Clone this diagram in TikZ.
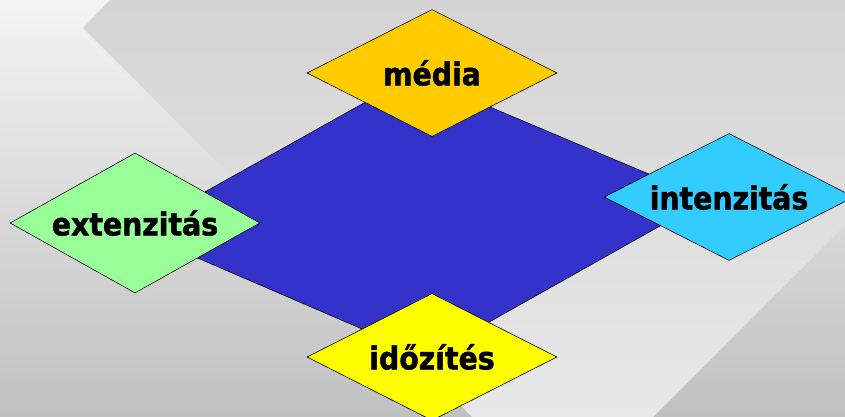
\documentclass[tikz,border=0pt]{standalone}
\usepackage{fontspec}
\setmainfont{DejaVu Sans}[FakeStretch=0.9, BoldFeatures={FakeBold=1.5}]
\usetikzlibrary{shapes.geometric}

\definecolor{hatterfent}{HTML}{F4F4F4}
\definecolor{hatterlent}{HTML}{C0C0C0}
\definecolor{savfent}{HTML}{D4D4D4}
\definecolor{savlent}{HTML}{E8E8E8}
\definecolor{kozepkek}{HTML}{3333CC}
\definecolor{mediasarga}{HTML}{FFCC00}
\definecolor{intenzkek}{HTML}{33CCFF}
\definecolor{extenzzold}{HTML}{99FF99}
\definecolor{idozitsarga}{HTML}{FFFF00}

\tikzset{
  rombusz/.style={diamond, aspect=2, draw=black, line width=0.6pt, inner sep=0pt,
    minimum width=250pt, minimum height=127pt,
    font=\fontsize{31.5}{36}\selectfont\bfseries}
}

\begin{document}
\begin{tikzpicture}[x=1pt,y=-1pt]

\useasboundingbox (0,0) rectangle (845,417);
\clip (0,0) rectangle (845,417);

% Background:
\shade[top color=hatterfent, bottom color=hatterlent] (0,0) rectangle (845,417);
\shade[top color=savfent, bottom color=savlent] (110,0) -- (83,28) -- (472,417)
        -- (653,417) -- (845,225) -- (845,0) -- cycle;

% Blue parallelogram:
\coordinate (fent) at (414,75);
\coordinate (jobb) at (708,199);
\coordinate (lent) at (427,357);
\coordinate (bal) at (135,231);
\draw[fill=kozepkek, line width=0.6pt] (fent) -- (jobb) -- (lent) -- (bal) -- cycle;

% Corner diamonds:
\node[rombusz, fill=mediasarga] (media) at (432,73) {média};
\node[rombusz, fill=intenzkek] (intenzitas) at (729,197) {intenzitás};
\node[rombusz, fill=extenzzold, minimum height=140pt] (extenzitas) at (135,223) {extenzitás};
\node[rombusz, fill=idozitsarga] (idozites) at (432,357) {időzítés};

\end{tikzpicture}
\end{document}
